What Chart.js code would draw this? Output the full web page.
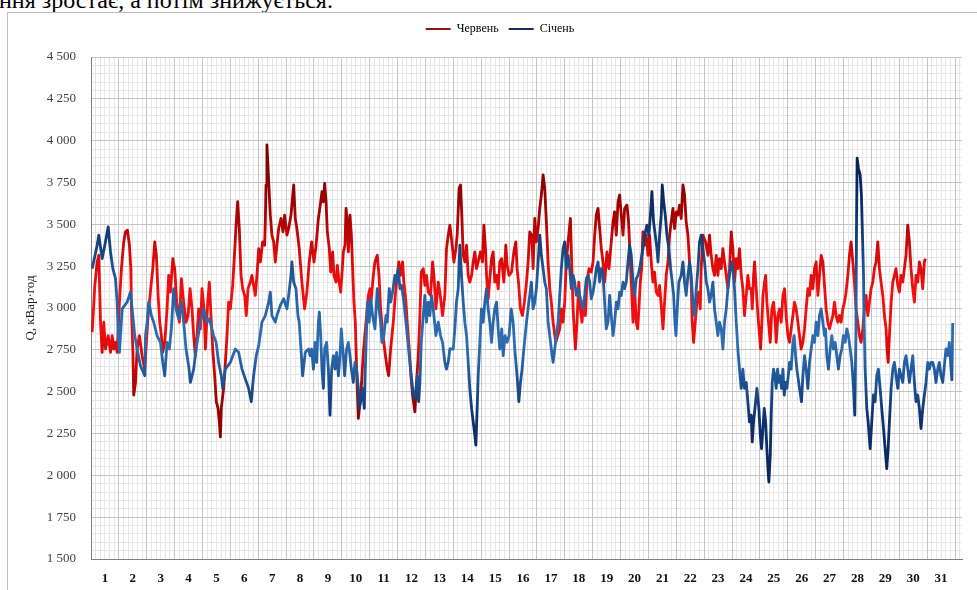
<!DOCTYPE html>
<html><head><meta charset="utf-8">
<script src="https://cdn.jsdelivr.net/npm/chart.js@4.4.1/dist/chart.umd.min.js"></script>
<style>
html,body{margin:0;padding:0;background:#fff;width:977px;height:590px;overflow:hidden;}
#wrap{position:relative;width:977px;height:590px;overflow:hidden;}
#cap{position:absolute;left:-1px;top:-12px;font-family:'Liberation Serif',serif;font-size:24px;line-height:24px;white-space:nowrap;color:#000;}
#frame{position:absolute;left:7px;top:12px;width:1000px;height:600px;border-left:1px solid #c0c0c0;border-top:1px solid #c0c0c0;}
canvas{position:absolute;left:0;top:0;}
</style></head><body>
<div id="wrap"><div id="cap">ння зростає, а потім знижується.</div><div id="frame"></div><canvas id="c" width="977" height="590"></canvas></div>
<script>
// Day labels (categories) and axis ticks
const dayLabels = ['1','2','3','4','5','6','7','8','9','10','11','12','13','14','15','16','17','18','19','20','21','22','23','24','25','26','27','28','29','30','31'];
const dayStartHours = [0,24,48,72,96,120,144,168,192,216,240,264,288,312,336,360,384,408,432,456,480,504,528,552,576,600,624,648,672,696,720,744];
const yTicks = [1500,1750,2000,2250,2500,2750,3000,3250,3500,3750,4000,4250,4500];

// Січень (January): hour of month and Q, кВар·год
const janHour = [
1.0,5.3,6.7,9.6,11.9,14.8,16.8,18.8,21.1,22.5,23.4,24.5,26.8,31.1,34.0,35.4,37.7,39.7,42.6,46.3,
46.9,48.3,49.7,52.0,54.0,56.9,59.8,61.8,63.5,65.5,67.5,69.2,71.2,73.2,75.5,77.8,79.8,81.8,84.1,85.6,
88.4,90.5,94.2,97.0,99.9,101.9,105.6,107.7,109.9,112.2,113.4,115.7,120.0,124.3,127.1,130.0,132.9,135.7,138.0,140.0,
142.3,144.4,147.2,150.1,153.0,154.4,155.8,158.7,160.1,163.0,165.9,168.7,170.2,172.2,173.0,174.5,176.5,178.2,179.3,181.0,
182.2,184.5,187.4,
188.6,190.0,191.5,192.9,194.3,195.8,196.6,197.8,198.9,200.1,
201.2,202.9,204.4,205.8,207.2,208.7,210.1,211.5,213.0,214.4,
215.5,217.3,218.4,220.1,221.6,223.0,224.2,225.9,227.3,228.7,
230.2,231.0,232.2,233.9,235.3,236.2,237.3,238.2,239.6,240.8,
242.5,244.5,246.5,248.0,249.4,250.5,252.2,254.0,255.1,256.8,
258.0,259.7,261.7,263.1,264.6,266.0,267.4,269.4,271.2,272.3,
274.0,275.8,277.5,279.2,280.9,282.1,283.2,284.4,286.1,287.5,
288.9,290.4,291.8,293.2,294.7,297.0,299.0,301.0,302.7,304.7,
306.1,307.6,309.0,311.9,313.3,314.7,316.2,317.6,319.0,320.5,
321.9,323.4,324.8,326.2,327.7,329.1,330.5,331.4,332.5,333.4,
334.8,336.2,337.7,339.1,340.6,342.0,343.4,344.9,346.3,347.7,
349.2,350.6,352.0,353.7,354.9,356.6,358.3,360.0,361.8,363.5,
364.9,366.9,368.4,369.8,371.2,372.7,375.0,377.0,
377.8,379.2,380.7,382.1,383.5,385.0,386.4,387.8,389.3,390.7,
392.1,393.6,395.0,396.4,397.9,399.3,400.7,402.2,403.6,405.0,
406.5,407.9,409.3,410.8,412.2,413.6,415.1,416.5,417.9,419.4,
420.8,422.2,423.7,425.1,426.5,428.0,429.4,430.8,432.3,433.7,
435.1,436.6,438.0,439.4,440.9,442.3,443.7,445.2,446.6,448.0,
449.5,450.9,452.3,453.8,455.2,456.6,458.1,459.5,460.9,462.4,
463.8,465.2,466.7,468.1,469.5,471.0,472.4,475.3,476.7,478.7,
480.4,481.9,483.0,484.4,485.9,487.3,488.2,489.6,491.0,491.9,
493.1,494.5,495.9,497.6,499.1,500.5,501.7,502.8,503.7,504.8,
506.2,508.2,509.7,511.1,512.5,514.0,515.4,516.8,518.3,519.7,
521.2,522.6,524.0,525.4,526.9,528.3,529.8,531.2,532.6,534.0,
535.5,536.9,538.4,539.8,541.2,542.7,544.1,545.5,547.0,548.4,
549.8,551.3,552.7,554.1,555.6,557.0,558.4,559.9,561.3,562.7,
564.2,565.6,567.0,
568.5,569.4,570.5,572.3,573.4,575.1,576.3,577.4,578.6,579.7,
580.9,582.0,582.9,583.7,584.9,585.7,586.6,587.7,588.9,590.0,
591.2,592.3,593.5,594.6,595.8,596.9,598.1,599.2,600.4,601.5,
602.9,604.4,605.5,606.7,607.8,610.1,611.8,613.0,614.4,615.8,
617.3,618.7,620.1,621.6,623.0,624.4,625.9,627.3,628.7,630.2,
631.6,632.5,633.6,635.0,636.5,637.9,639.3,640.8,642.2,643.6,
645.1,646.5,647.9,649.4,650.8,652.2,653.7,655.1,656.6,657.7,
658.6,659.1,659.7,660.8,662.3,663.4,664.3,665.2,665.7,666.6,
668.0,669.2,670.9,672.3,673.7,675.2,676.6,678.0,679.5,680.9,
682.4,683.8,685.2,686.4,687.5,689.0,690.4,691.8,693.2,694.7,
696.1,697.5,699.0,700.4,701.8,703.3,704.7,706.1,707.6,709.0,
710.4,711.9,713.3,714.7,716.2,717.6,719.0,720.5,721.9,723.3,
724.8,726.2,727.6,729.1,730.5,731.9,733.4,736.2,737.7,739.1,
740.5,741.3,742.0
];
const janQ = [
3235,3375,3435,3295,3375,3485,3335,3235,3175,3035,2855,2735,2995,3035,3095,2995,2835,2755,2655,2595,
2835,2915,3035,2955,2915,2835,2795,2675,2595,2795,2755,2875,3115,2995,2935,3035,2915,2755,2655,2555,
2635,2755,2915,2995,2915,2935,2835,2795,2675,2595,2520,2635,2675,2755,2735,2635,2575,2520,2440,2595,
2715,2775,2915,2955,3035,3095,2955,2915,2955,3015,3055,2995,3075,3195,3275,3155,3115,2955,2915,2735,
2595,2735,2755,
2715,2755,2635,2795,2675,2915,2975,2835,2635,2520,
2755,2795,2635,2360,2635,2715,2635,2735,2595,2715,
2875,2715,2595,2755,2795,2715,2635,2555,2675,2635,
2520,2400,2440,2520,2400,2635,2875,3035,2915,3055,
2955,2875,3115,2995,2915,2795,2835,2955,2915,3115,
3035,3095,3195,3155,3235,3115,3135,3035,2915,2835,
2715,2595,2480,2460,2595,2440,2555,2795,2955,3075,
2915,3035,2955,3075,2995,2835,2915,2835,2795,2675,
2635,2675,2755,2755,2875,3035,3115,3375,3195,3035,
2915,2835,2675,2520,2400,2320,2240,2180,2400,2595,
2795,2995,2915,3035,3115,2995,2915,2795,2915,2995,
3035,2875,2755,2875,2715,2835,2795,2835,2995,2915,
2755,2595,2440,2555,2635,2755,2915,3035,
3075,3155,2995,3035,3115,3275,3435,3315,3235,3155,
3115,2915,2835,2755,2675,2755,2835,2915,3075,3235,
3355,3395,3235,3315,3235,3115,3195,3155,3075,3115,
3075,3035,2995,3075,3175,3195,3155,3055,3095,3155,
3235,3275,3155,3235,3195,3035,2875,2915,3075,2955,
2835,2915,3035,2995,3095,3075,3155,3115,3155,3275,
3375,3315,3155,3075,3175,3195,3235,3355,3435,3495,
3435,3575,3695,3515,3435,3355,3275,3435,3555,3735,
3635,3555,3435,3355,3235,3155,3075,2915,2835,2995,
3155,3195,3275,3155,3075,3195,3275,3195,3035,2955,
3115,3235,3395,3435,3355,3275,3155,3115,3035,3075,
3155,2995,2915,2835,2915,2875,2755,2915,2995,3115,
3195,3275,3235,3115,2915,2755,2635,2520,2635,2520,
2555,2440,2320,
2360,2200,2320,2440,2520,2400,2240,2160,2280,2400,
2320,2160,2040,1960,2120,2360,2555,2635,2595,2520,
2635,2555,2595,2520,2635,2480,2555,2520,2595,2675,
2635,2795,2835,2715,2635,2520,2440,2595,2715,2635,
2520,2675,2755,2835,2795,2915,2835,2955,2995,2915,
2835,2875,2715,2635,2755,2835,2755,2795,2715,2635,
2715,2755,2835,2795,2875,2835,2755,2675,2520,2360,
2835,3435,3895,3835,3795,3675,3435,3195,2915,2635,
2400,2320,2160,2320,2480,2440,2595,2635,2520,2400,
2280,2160,2040,2160,2320,2520,2635,2675,2595,2520,
2635,2595,2555,2675,2715,2635,2555,2635,2715,2555,
2440,2480,2400,2280,2400,2480,2555,2675,2635,2675,
2675,2635,2555,2635,2675,2595,2555,2755,2715,2795,
2640,2570,2910
];

// Червень (June): hour of month and Q, кВар·год
const junHour = [
1.0,3.3,5.3,6.7,8.2,9.6,11.0,12.5,14.8,16.8,
18.2,19.6,21.1,22.5,24.5,26.2,28.2,29.7,31.4,33.1,
34.3,34.8,36.0,36.8,38.3,39.7,41.7,44.0,46.3,47.7,
49.2,50.3,52.0,53.2,54.9,56.3,57.8,59.2,60.6,61.8,
63.5,65.5,66.9,68.4,70.4,72.1,73.8,76.1,77.8,79.8,
81.8,83.6,85.3,87.0,88.4,89.9,91.3,92.7,94.2,95.6,
97.3,98.5,100.5,101.9,103.6,104.8,106.5,107.9,109.4,110.5,
111.4,112.2,114.2,115.7,117.1,118.5,120.0,122.0,123.7,124.9,
126.3,127.7,129.2,130.6,132.3,133.7,135.2,137.2,138.6,140.0,
141.5,142.9,144.4,145.8,147.8,149.5,150.1,150.7,151.5,153.0,
154.4,155.8,157.3,158.7,160.1,161.6,163.6,165.3,166.7,168.7,
170.2,172.2,174.5,175.9,177.3,179.3,181.6,183.9,185.9,187.9,
190.0,192.0,193.8,195.8,197.8,198.9,200.1,201.2,202.4,203.5,
205.2,206.4,208.1,209.2,211.0,212.1,213.3,215.0,216.4,217.3,
218.7,219.6,220.7,221.6,223.0,224.2,225.3,226.4,227.6,228.7,
230.2,231.6,233.0,234.5,236.8,238.8,240.2,241.1,243.1,244.5,
246.5,248.0,249.4,250.8,252.8,255.1,256.3,258.0,260.3,262.0,
263.7,265.1,266.6,268.3,269.4,271.2,272.3,274.0,275.5,276.9,
278.9,280.3,281.8,283.2,284.4,286.1,287.5,288.9,290.4,292.4,
294.1,295.3,297.0,299.0,300.4,302.7,304.7,306.1,307.6,309.0,
310.4,312.5,314.2,315.3,317.0,318.2,319.3,320.5,321.9,323.4,
324.8,326.2,327.7,329.1,330.5,332.0,334.0,335.4,337.1,338.3,
339.7,340.6,342.0,343.4,344.9,346.3,347.7,349.2,350.6,352.0,
353.5,355.5,357.2,358.3,360.0,362.1,364.1,365.8,366.9,368.1,
369.8,371.5,373.2,375.0,376.4,377.8,379.5,
380.7,382.1,383.5,385.0,386.4,387.8,389.3,390.7,392.1,393.6,
395.0,396.4,397.9,400.2,401.9,403.6,405.0,406.5,407.9,409.3,
410.8,412.8,413.9,415.1,417.1,418.5,420.0,421.4,422.8,424.2,
425.7,427.1,428.8,430.8,432.3,433.7,435.1,436.6,438.0,439.4,
440.9,442.3,444.3,446.0,448.0,449.5,450.9,452.3,453.8,455.2,
456.6,458.1,459.5,461.5,462.9,464.4,465.5,466.7,468.1,469.5,
470.7,471.8,473.0,474.1,475.3,476.7,478.1,479.6,481.0,482.4,
483.9,485.3,486.7,488.2,489.6,491.0,492.5,493.9,495.3,496.8,
498.2,499.6,501.1,502.5,504.0,505.4,506.8,508.2,509.7,511.1,
512.5,514.0,515.4,516.8,517.7,518.9,520.3,521.7,523.2,524.6,
525.4,526.9,529.2,531.2,532.6,534.0,535.5,536.9,538.4,539.8,
541.2,542.7,544.1,545.5,547.0,548.4,549.8,551.3,552.7,554.1,
555.6,557.0,558.4,559.9,561.3,562.7,564.2,565.6,567.0,
568.5,569.4,570.5,571.4,572.8,574.3,575.7,576.6,577.7,578.6,
580.0,580.9,582.0,583.4,584.9,586.3,587.7,589.2,590.0,591.5,
592.9,594.3,595.8,597.2,598.6,600.1,601.5,602.9,604.4,605.8,
607.2,608.7,610.1,611.5,613.0,614.4,615.8,617.3,618.7,620.1,
621.6,623.0,624.4,625.9,627.3,628.7,630.2,631.6,633.0,634.5,
635.9,637.3,638.8,640.2,641.6,643.1,644.5,645.9,647.4,648.8,
650.2,651.7,653.1,654.5,656.0,657.4,658.8,660.3,661.7,663.1,
664.6,666.0,667.4,668.9,670.3,671.7,673.2,674.6,676.0,677.5,
678.9,680.3,681.8,683.2,684.6,685.5,686.4,687.5,689.0,690.4,
691.8,693.2,694.7,696.1,697.5,699.0,700.4,701.8,703.3,704.7,
706.1,707.6,709.0,710.4,711.9,713.3,714.7,716.2,717.6,718.5
];
const junQ = [
2855,3135,3275,3315,2915,2735,2915,2755,2835,2735,
2835,2755,2795,2735,3035,3235,3395,3455,3465,3375,
3235,2995,2755,2480,2555,2755,2835,2715,2635,2795,
2955,3035,3155,3235,3395,3315,3075,2915,2835,2735,
2795,2995,3195,3095,3295,3235,3035,2915,3175,3035,
2915,2955,3115,2995,2835,2715,2835,2995,2875,3115,
2995,2755,3035,3155,2915,2755,2595,2440,2400,2320,
2230,2400,2520,2675,2835,3035,2995,3135,3335,3495,
3635,3475,3195,3115,3075,2955,3115,3155,3195,3135,
3075,3195,3355,3275,3395,3375,3515,3735,3975,3755,
3555,3435,3395,3275,3375,3475,3535,3455,3555,3435,
3475,3555,3735,3535,3475,3355,3155,2995,3095,3275,
3395,3275,3375,3535,3635,3695,3635,3745,3635,3455,
3355,3215,3335,3195,3155,3255,3175,3095,3235,3335,
3375,3595,3515,3335,3555,3435,3235,3035,2915,2635,
2340,2440,2555,2735,2915,3075,3115,3035,3195,3275,
3315,3195,2995,2875,2755,2635,2595,2755,2915,3075,
3195,3275,3195,3275,3155,3035,2915,2755,2595,2480,
2380,2555,2715,2955,3215,3235,3135,3195,3095,3075,
3275,3195,2995,3155,3095,2955,3075,3355,3435,3495,
3415,3275,3355,3435,3715,3735,3555,3315,3275,3375,
3195,3155,3195,3275,3335,3235,3295,3335,3275,3495,
3355,3195,3055,3175,3295,3335,3155,3195,3115,3275,
3295,3155,3375,3255,3195,3215,3335,3395,3235,3155,
2995,2955,3035,3155,3275,3455,3435,
3235,3535,3395,3475,3595,3675,3795,3715,3515,3275,
3115,3035,2915,2795,2835,2875,2995,2915,3035,3275,
3395,3535,3275,2995,2755,2915,3155,2995,2915,3035,
2955,3155,3235,3215,3275,3435,3555,3595,3475,3355,
3275,3155,3335,3235,3395,3515,3575,3435,3635,3675,
3555,3435,3595,3615,3515,3275,3115,2915,3115,2915,
2875,2995,3155,3235,3455,3375,3435,3315,3435,3275,
3155,3215,3095,3075,3135,3015,2875,3035,3195,3275,
3435,3515,3595,3475,3575,3555,3615,3535,3735,3675,
3515,3435,3275,3155,2915,2795,2915,3035,3095,2995,
3235,3435,3395,3315,3435,3315,3235,3195,3315,3195,
3295,3235,3355,3275,3195,3115,3235,3455,3355,3155,
3295,3235,3355,3195,3115,2955,3075,3195,3115,
3115,2995,3195,3275,3115,2955,2835,2755,2915,3075,
3155,3195,3035,2915,2795,2995,3035,2915,2795,2955,
2995,2915,3075,3115,2955,2835,2795,2875,2955,3035,
2995,2915,2835,2755,2795,2875,2995,3115,3075,3195,
3115,3235,3275,3075,3195,3315,3275,3135,2995,2915,
2875,2915,2955,3035,2955,2915,2955,2915,2995,3035,
3095,3195,3315,3395,3275,3155,2995,2915,2835,2795,
2875,2995,3075,2955,3035,3115,3155,3235,3275,3395,
3235,3155,3075,2955,2875,2755,2675,2835,3035,3155,
3195,3235,3135,3095,3195,3155,3235,3315,3495,3395,
3235,3115,3035,3195,3155,3275,3235,3115,3275,3295
];

const seriesNames = ['Червень','Січень'];
const legendColors = ['#8e1515','#1c2a5c'];
const STOPS = {
  jun: [[4500,'#5a0000'],[3850,'#7e0303'],[3550,'#a80202'],[3350,'#d40808'],[3100,'#f20f0f'],[2850,'#ee0d0d'],[2650,'#c80606'],[2400,'#950303'],[1500,'#5a0000']],
  jan: [[4500,'#06163f'],[3700,'#0a2560'],[3350,'#17457f'],[3100,'#2660a2'],[2800,'#2e6eb3'],[2600,'#20589a'],[2350,'#0f3271'],[1500,'#05153c']]
};

const toXY = (h, q) => h.slice(0, Math.min(h.length, q.length)).map((x, i) => ({x: x, y: q[i]}));
const gradCache = {};
function grad(chart, key) {
  const area = chart.chartArea;
  if (!area || !chart.scales || !chart.scales.y) return key === 'jun' ? '#c00000' : '#1f4e8c';
  const id = key + '_' + area.top + '_' + area.bottom;
  if (gradCache[id]) return gradCache[id];
  const y = chart.scales.y;
  const y0 = y.getPixelForValue(4500), y1 = y.getPixelForValue(1500);
  const g = chart.ctx.createLinearGradient(0, y0, 0, y1);
  STOPS[key].forEach(([v, c]) => g.addColorStop(Math.min(1, Math.max(0, (4500 - v) / 3000)), c));
  gradCache[id] = g;
  return g;
}
const fmt = v => v >= 1000 ? Math.floor(v / 1000) + ' ' + String(v % 1000).padStart(3, '0') : String(v);
const serif = "'Liberation Serif', 'Times New Roman', serif";
const minorX = [];
for (let h = 4; h < 750; h += 4) if (h % 24 !== 0) minorX.push(h);
const minorY = [];
for (let v = 1550; v < 4500; v += 50) if (v % 250 !== 0) minorY.push(v);

new Chart(document.getElementById('c'), {
  type: 'line',
  data: {
    datasets: [
      {label: seriesNames[0], data: toXY(junHour, junQ), xAxisID: 'x', yAxisID: 'y', borderColor: ctx => grad(ctx.chart, 'jun'), borderWidth: 2.8, pointRadius: 0, tension: 0, fill: false, order: 2, borderJoinStyle: 'round'},
      {label: seriesNames[1], data: toXY(janHour, janQ), xAxisID: 'x', yAxisID: 'y', borderColor: ctx => grad(ctx.chart, 'jan'), borderWidth: 2.8, pointRadius: 0, tension: 0, fill: false, order: 1, borderJoinStyle: 'round'}
    ]
  },
  options: {
    responsive: false, animation: false, devicePixelRatio: 1,
    layout: {padding: {top: 13, left: 38, right: 15, bottom: 0}},
    plugins: {
      tooltip: {enabled: false},
      legend: {
        position: 'top', align: 'center',
        labels: {
          boxWidth: 25, boxHeight: 2, padding: 10, color: '#222',
          font: {family: serif, size: 12},
          generateLabels: chart => chart.data.datasets.map((ds, i) => ({text: ds.label, fillStyle: legendColors[i], strokeStyle: legendColors[i], lineWidth: 0, hidden: false, datasetIndex: i}))
        }
      }
    },
    scales: {
      x: {
        type: 'linear', axis: 'x', position: 'bottom', min: 0, max: 750,
        afterBuildTicks: s => { s.ticks = dayStartHours.map(v => ({value: v})); },
        afterFit: s => { s.height = 31; },
        grid: {color: '#c4c4c4', lineWidth: 1, drawTicks: false},
        border: {color: '#7f7f7f', width: 1},
        ticks: {autoSkip: false, maxRotation: 0, minRotation: 0, padding: 12, labelOffset: 13.94, color: '#111', font: {family: serif, size: 13, weight: 'bold'},
          callback: (v, i) => i < dayLabels.length ? dayLabels[i] : ''}
      },
      xm: {
        type: 'linear', axis: 'x', position: 'top', min: 0, max: 750,
        afterBuildTicks: s => { s.ticks = minorX.map(v => ({value: v})); },
        afterFit: s => { s.height = 12; },
        grid: {color: '#e6e6e6', lineWidth: 1, drawTicks: false, z: -2},
        border: {display: false},
        ticks: {display: false}
      },
      y: {
        type: 'linear', axis: 'y', position: 'left', min: 1500, max: 4500,
        afterBuildTicks: s => { s.ticks = yTicks.map(v => ({value: v})); },
        afterFit: s => { s.width = 53; },
        grid: {color: '#c4c4c4', lineWidth: 1, drawTicks: false},
        border: {color: '#7f7f7f', width: 1},
        title: {display: true, text: 'Q, кВар·год', color: '#222', font: {family: serif, size: 13}, padding: {top: -15, bottom: 15}},
        ticks: {padding: 15, color: '#404040', font: {family: serif, size: 13}, callback: v => fmt(v)}
      },
      ym: {
        type: 'linear', axis: 'y', position: 'right', min: 1500, max: 4500,
        afterBuildTicks: s => { s.ticks = minorY.map(v => ({value: v})); },
        afterFit: s => { s.width = 0; },
        grid: {color: '#e6e6e6', lineWidth: 1, drawTicks: false, z: -2},
        border: {display: false},
        ticks: {display: false}
      }
    }
  }
});
</script>
</body></html>
